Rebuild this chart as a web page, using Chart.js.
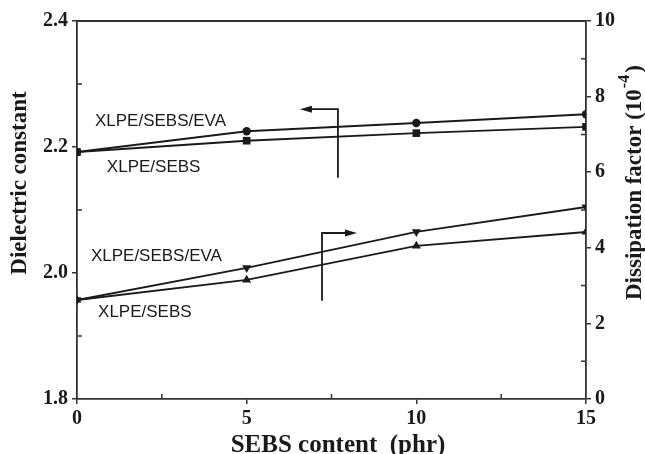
<!DOCTYPE html>
<html>
<head>
<meta charset="utf-8">
<script src="https://cdn.jsdelivr.net/npm/chart.js@4.4.1/dist/chart.umd.min.js"></script>
<style>
  html, body { margin: 0; padding: 0; background: #fff; }
</style>
</head>
<body>
<canvas id="chart" width="645" height="454"></canvas>
<script>
// ── Data ─────────────────────────────────────────────────────
const sebsContent    = [0, 5, 10, 15];                 // phr
const dielecEva      = [2.192, 2.225, 2.238, 2.252];   // XLPE/SEBS/EVA, left axis
const dielecSebs     = [2.192, 2.210, 2.222, 2.232];   // XLPE/SEBS, left axis
const dissipEva      = [2.62, 3.47, 4.42, 5.08];       // XLPE/SEBS/EVA, right axis (1e-4)
const dissipSebs     = [2.62, 3.15, 4.05, 4.42];       // XLPE/SEBS, right axis (1e-4)
const xLabelTicks    = [0, 5, 10, 15];
const leftLabelTicks = [1.8, 2.0, 2.2, 2.4];
const rightLabelTicks = [0, 2, 4, 6, 8, 10];

const INK = '#1a1a1a';
const AXIS = '#333';
const SERIF = '"Liberation Serif", "DejaVu Serif", serif';
const SANS = '"Liberation Sans", Arial, sans-serif';

const pts = ys => sebsContent.map((x, i) => ({ x, y: ys[i] }));
const isIn = (v, list) => list.some(t => Math.abs(t - v) < 1e-6);

// ── Annotation layout (data coords on x / left y) ────────────
const notes = [
  { text: 'XLPE/SEBS/EVA', x: 0.53, y: 2.240 },
  { text: 'XLPE/SEBS',     x: 0.88, y: 2.168 },
  { text: 'XLPE/SEBS/EVA', x: 0.41, y: 2.027 },
  { text: 'XLPE/SEBS',     x: 0.62, y: 1.938 },
];
const arrows = [
  { x: 7.69, yFrom: 2.151, yTo: 2.260, xTip: 6.57 },  // points to left axis
  { x: 7.22, yFrom: 1.956, yTo: 2.0635, xTip: 8.25 }, // points to right axis
];

function series(label, data, axis, style, rot, r) {
  return {
    label, data, yAxisID: axis,
    borderColor: INK, backgroundColor: INK, borderWidth: 1.9,
    pointStyle: style, rotation: rot, pointRadius: r, pointHoverRadius: r,
    pointBackgroundColor: INK, pointBorderColor: INK, pointBorderWidth: 0,
    tension: 0, fill: false,
  };
}

// ── Decorations: box, inner minor ticks, notes, arrows, titles ─
const decor = {
  id: 'decor',
  afterDraw(chart) {
    const { ctx, chartArea: a } = chart;
    const { x, y, y2 } = chart.scales;
    ctx.save();
    ctx.strokeStyle = AXIS; ctx.lineWidth = 1.8;
    ctx.beginPath(); ctx.moveTo(a.left, a.top); ctx.lineTo(a.right, a.top); ctx.stroke();

    // minor ticks point inward
    ctx.lineWidth = 1.5;
    ctx.beginPath();
    x.ticks.forEach(t => { if (!isIn(t.value, xLabelTicks)) { const p = x.getPixelForValue(t.value); ctx.moveTo(p, a.bottom); ctx.lineTo(p, a.bottom - 5); } });
    y.ticks.forEach(t => { if (!isIn(t.value, leftLabelTicks)) { const p = y.getPixelForValue(t.value); ctx.moveTo(a.left, p); ctx.lineTo(a.left + 5, p); } });
    y2.ticks.forEach(t => { if (!isIn(t.value, rightLabelTicks)) { const p = y2.getPixelForValue(t.value); ctx.moveTo(a.right, p); ctx.lineTo(a.right - 5, p); } });
    ctx.stroke();

    // curve labels
    ctx.fillStyle = INK;
    ctx.font = '17px ' + SANS;
    ctx.textAlign = 'left'; ctx.textBaseline = 'middle';
    notes.forEach(n => ctx.fillText(n.text, x.getPixelForValue(n.x), y.getPixelForValue(n.y)));

    // axis arrows
    ctx.strokeStyle = INK; ctx.lineWidth = 1.8;
    arrows.forEach(ar => {
      const px = x.getPixelForValue(ar.x), p0 = y.getPixelForValue(ar.yFrom), p1 = y.getPixelForValue(ar.yTo);
      const tip = x.getPixelForValue(ar.xTip), dir = Math.sign(tip - px);
      ctx.beginPath(); ctx.moveTo(px, p0); ctx.lineTo(px, p1); ctx.lineTo(tip - dir * 10, p1); ctx.stroke();
      ctx.beginPath(); ctx.moveTo(tip, p1); ctx.lineTo(tip - dir * 12, p1 - 3.5); ctx.lineTo(tip - dir * 12, p1 + 3.5); ctx.closePath(); ctx.fill();
    });

    // axis titles
    ctx.font = 'bold 25px ' + SERIF;
    ctx.textAlign = 'center'; ctx.textBaseline = 'alphabetic';
    ctx.fillText('SEBS content  (phr)', 338, 452);

    ctx.save();
    ctx.translate(26, 183); ctx.rotate(-Math.PI / 2);
    ctx.font = 'bold 23px ' + SERIF;
    ctx.fillText('Dielectric constant', 0, 0);
    ctx.restore();

    ctx.save();
    ctx.translate(641, 300); ctx.rotate(-Math.PI / 2);
    ctx.textAlign = 'left';
    ctx.font = 'bold 23px ' + SERIF;
    const main = 'Dissipation factor (10';
    const w1 = ctx.measureText(main).width;
    ctx.fillText(main, 0, 0);
    ctx.font = 'bold 16px ' + SERIF;
    const w2 = ctx.measureText('-4').width;
    ctx.fillText('-4', w1 + 1, -12);
    ctx.font = 'bold 23px ' + SERIF;
    ctx.fillText(')', w1 + w2 + 3, 0);
    ctx.restore();

    ctx.restore();
  }
};

const tickFont = { family: SERIF, size: 20, weight: 'bold' };

new Chart(document.getElementById('chart'), {
  type: 'line',
  data: {
    datasets: [
      series('XLPE/SEBS/EVA dielectric', pts(dielecEva),  'y',  'circle',   0,   4.2),
      series('XLPE/SEBS dielectric',     pts(dielecSebs), 'y',  'rect',     0,   5.4),
      series('XLPE/SEBS/EVA dissipation', pts(dissipEva), 'y2', 'triangle', 180, 5.2),
      series('XLPE/SEBS dissipation',    pts(dissipSebs), 'y2', 'triangle', 0,   5.2),
    ]
  },
  options: {
    responsive: false, animation: false,
    layout: { padding: { top: 21, left: 0, right: 0, bottom: 0 } },
    plugins: { legend: { display: false }, tooltip: { enabled: false } },
    scales: {
      x: {
        type: 'linear', min: 0, max: 15,
        afterFit: s => { s.height = 55; },
        ticks: { stepSize: 2.5, color: INK, font: tickFont, padding: 3,
                 callback: v => isIn(v, xLabelTicks) ? v : '', maxRotation: 0, autoSkip: false },
        grid: { drawOnChartArea: false, tickLength: 5, lineWidth: 1.5, color: c => isIn(c.tick.value, xLabelTicks) ? AXIS : 'rgba(0,0,0,0)' },
        border: { color: AXIS, width: 1.8 },
      },
      y: {
        position: 'left', min: 1.8, max: 2.4,
        afterFit: s => { s.width = 77; },
        ticks: { stepSize: 0.1, color: INK, font: tickFont, padding: 4,
                 callback: v => isIn(v, leftLabelTicks) ? v.toFixed(1) : '', autoSkip: false },
        grid: { drawOnChartArea: false, tickLength: 5, lineWidth: 1.5, color: c => isIn(c.tick.value, leftLabelTicks) ? AXIS : 'rgba(0,0,0,0)' },
        border: { color: AXIS, width: 1.8 },
      },
      y2: {
        position: 'right', min: 0, max: 10,
        afterFit: s => { s.width = 59; },
        ticks: { stepSize: 1, color: INK, font: tickFont, padding: 4,
                 callback: v => isIn(v, rightLabelTicks) ? v : '', autoSkip: false },
        grid: { drawOnChartArea: false, tickLength: 5, lineWidth: 1.5, color: c => isIn(c.tick.value, rightLabelTicks) ? AXIS : 'rgba(0,0,0,0)' },
        border: { color: AXIS, width: 1.8 },
      }
    }
  },
  plugins: [decor]
});
</script>
</body>
</html>
